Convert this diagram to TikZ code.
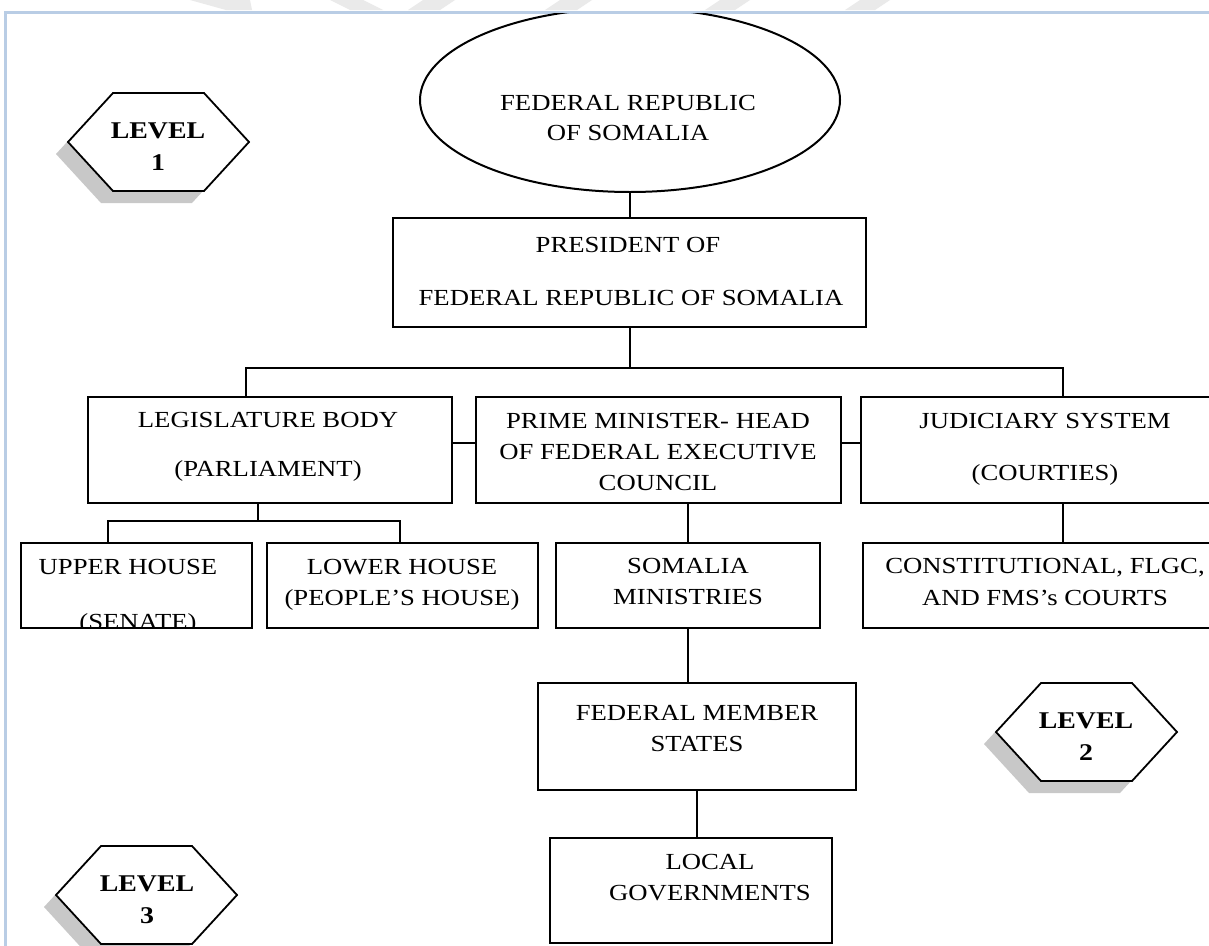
\documentclass[tikz,border=0pt]{standalone}
\usepackage{fontspec}
\setmainfont{Liberation Serif}[FakeStretch=1.16]
\usetikzlibrary{shapes.geometric}
\definecolor{frameblue}{RGB}{185,205,229}
\definecolor{wmgray}{RGB}{234,234,234}
\definecolor{shadowgray}{RGB}{200,200,200}
\tikzset{
  box/.style={draw, line width=2pt, fill=white, inner sep=0pt},
  wire/.style={line width=2pt},
  txt/.style={inner sep=0pt, font=\fontsize{23}{28}\selectfont, text height=15.2pt, text depth=0pt},
  lvl/.style={inner sep=0pt, font=\fontsize{24}{28}\selectfont\bfseries, text height=16pt, text depth=0pt},
  hexa/.pic={
    \fill[shadowgray] (-102.5,12) -- (-57.5,-37) -- (33.5,-37) -- (78.5,12) -- (33.5,61) -- (-57.5,61) -- cycle;
    \draw[line width=1.8pt, fill=white] (-90.5,0) -- (-45.5,-49) -- (45.5,-49) -- (90.5,0) -- (45.5,49) -- (-45.5,49) -- cycle;
  }
}
\begin{document}
\begin{tikzpicture}[x=1pt,y=-1pt]
\useasboundingbox (0,0) rectangle (1209,945);
\clip (0,0) rectangle (1209,945);
\fill[white] (0,0) rectangle (1209,945);
% watermark stripes
\fill[wmgray] (190,0) -- (250,0) -- (252,10) -- (226,10) -- cycle;
\fill[wmgray] (330,0) -- (363,0) -- (383,10) -- (350,10) -- cycle;
\fill[wmgray] (423,0) -- (455,0) -- (440,10) -- (408,10) -- cycle;
\fill[wmgray] (560,0) -- (592,0) -- (577,10) -- (545,10) -- cycle;
\fill[wmgray] (720,0) -- (750,0) -- (735,10) -- (705,10) -- cycle;
\fill[wmgray] (860,0) -- (890,0) -- (875,10) -- (845,10) -- cycle;
% frame
\draw[frameblue, line width=3pt] (5,946) -- (5,12) -- (1210,12);

% ellipse
\begin{scope}
\clip (0,13.5) rectangle (1209,945);
\node[draw, ellipse, line width=2pt, minimum width=420pt, minimum height=184pt, inner sep=0pt] (ell) at (630,100) {};
\end{scope}
\node[txt] (e1) at (628,103) {FEDERAL REPUBLIC};
\node[txt] (e2) at (628,133) {OF SOMALIA};

% boxes
\node[box, minimum width=473pt, minimum height=109pt] (pres) at (629.5,272.5) {};
\node[box, minimum width=364pt, minimum height=106pt] (leg) at (270,450) {};
\node[box, minimum width=365pt, minimum height=106pt] (pm) at (658.5,450) {};
\node[box, minimum width=368pt, minimum height=106pt] (jud) at (1045,450) {};
\node[box, minimum width=231pt, minimum height=85pt] (up) at (136.5,585.5) {};
\node[box, minimum width=271pt, minimum height=85pt] (low) at (402.5,585.5) {};
\node[box, minimum width=264pt, minimum height=85pt] (min) at (688,585.5) {};
\node[box, minimum width=366pt, minimum height=85pt] (con) at (1046,585.5) {};
\node[box, minimum width=318pt, minimum height=107pt] (fms) at (697,736.5) {};
\node[box, minimum width=282pt, minimum height=105pt] (loc) at (691,890.5) {};

% texts
\node[txt] (p1) at (628,245) {PRESIDENT OF};
\node[txt] (p2) at (631,298) {FEDERAL REPUBLIC OF SOMALIA};
\node[txt] (l1) at (268,420) {LEGISLATURE BODY};
\node[txt] (l2) at (268,469) {(PARLIAMENT)};
\node[txt] (m1) at (658,421) {PRIME MINISTER- HEAD};
\node[txt] (m2) at (658,452) {OF FEDERAL EXECUTIVE};
\node[txt] (m3) at (658,483) {COUNCIL};
\node[txt] (j1) at (1045,421) {JUDICIARY SYSTEM};
\node[txt] (j2) at (1045,473) {(COURTIES)};
\node[txt] (u1) at (128,567) {UPPER HOUSE};
\begin{scope}
\clip (22,544) rectangle (251,626.5);
\node[txt] (u2) at (138,622) {(SENATE)};
\end{scope}
\node[txt] (w1) at (402,567) {LOWER HOUSE};
\node[txt] (w2) at (402,598) {(PEOPLE’S HOUSE)};
\node[txt] (s1) at (688,566) {SOMALIA};
\node[txt] (s2) at (688,597) {MINISTRIES};
\node[txt] (c1) at (1045,566) {CONSTITUTIONAL, FLGC,};
\node[txt] (c2) at (1045,598) {AND FMS’s COURTS};
\node[txt] (f1) at (697,713) {FEDERAL MEMBER};
\node[txt] (f2) at (697,744) {STATES};
\node[txt] (g1) at (710,862) {LOCAL};
\node[txt] (g2) at (710,893) {GOVERNMENTS};

% connectors
\coordinate (hl) at (246,368);
\coordinate (hr) at (1063,368);
\draw[wire] (ell.south) -- (ell.south |- pres.north);
\draw[wire] (pres.south) -- (pres.south |- hl);
\draw[wire] (hl |- leg.north) -- (hl) -- (hr) -- (hr |- jud.north);
\coordinate (sa) at (452,443);
\coordinate (sb) at (841,443);
\draw[wire] (sa) -- (sa -| pm.west);
\draw[wire] (sb) -- (sb -| jud.west);
\coordinate (lh) at (258,521);
\coordinate (ul) at (108,521);
\coordinate (ur) at (400,521);
\draw[wire] (lh |- leg.south) -- (lh);
\draw[wire] (ul |- up.north) -- (ul) -- (ur) -- (ur |- low.north);
\draw[wire] (min.north |- pm.south) -- (min.north);
\coordinate (jc) at (1063,520);
\draw[wire] (jc |- jud.south) -- (jc |- con.north);
\draw[wire] (min.south) -- (min.south |- fms.north);
\draw[wire] (fms.south) -- (fms.south |- loc.north);

% level hexagons
\pic at (158.5,142) {hexa};
\node[lvl] (v1a) at (158,130) {LEVEL};
\node[lvl] (v1b) at (158,162) {1};
\pic at (1086.5,732) {hexa};
\node[lvl] (v2a) at (1086,720) {LEVEL};
\node[lvl] (v2b) at (1086,752) {2};
\pic at (146.5,895) {hexa};
\node[lvl] (v3a) at (147,883) {LEVEL};
\node[lvl] (v3b) at (147,915) {3};
\end{tikzpicture}
\end{document}
